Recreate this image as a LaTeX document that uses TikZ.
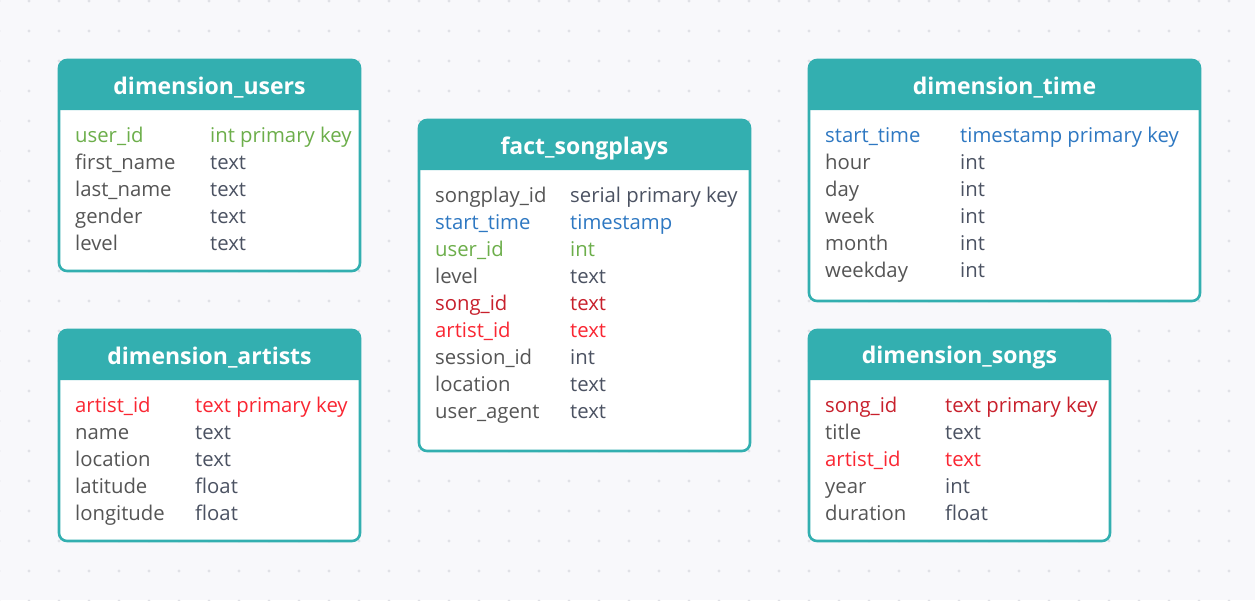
\documentclass[tikz,border=0pt]{standalone}
\usepackage{fontspec}
\setmainfont{Open Sans}
\usepackage{xcolor}
\usepackage{tikz}
\usetikzlibrary{calc}

\definecolor{bgcol}{HTML}{F8F8FB}
\definecolor{dotcol}{HTML}{E0E1E6}
\definecolor{hdrcol}{HTML}{33AFB0}
\definecolor{nmgray}{HTML}{555555}
\definecolor{tpgray}{HTML}{4B5262}
\definecolor{keygreen}{HTML}{6CAE4A}
\definecolor{keyblue}{HTML}{2E78C2}
\definecolor{keydred}{HTML}{C8202C}
\definecolor{keyred}{HTML}{FA2632}

\begin{document}
\begin{tikzpicture}[x=1pt,y=-1pt,
	fld/.style={anchor=west,inner sep=0pt,text height=14pt,text depth=4pt,nmgray,font=\fontsize{20.3}{24}\selectfont},
	typ/.style={tpgray},
	plain/.style={},
	green/.style={keygreen},
	blue/.style={keyblue},
	dred/.style={keydred},
	red/.style={keyred},
	title/.style={inner sep=0pt,white,font=\fontsize{23}{27}\selectfont\bfseries}]
			\useasboundingbox (0,0) rectangle (1255,600);
			\fill[bgcol] (0,0) rectangle (1255,600);
			
			% dotted grid
			\foreach \i in {0,...,42}
				\foreach \j in {0,...,20}
					\fill[dotcol] ({-1+30*\i},{1+30*\j}) circle (1.6pt);
			
			% dimension_users
			\begin{scope}[shift={(59,60)}]
				\def\w{301}
				\def\h{211}
				\fill[white,rounded corners=8pt] (0,0) rectangle (\w,\h);
				\fill[hdrcol] (0,50) [rounded corners=8pt] -- (0,0) -- (\w,0) [sharp corners] -- (\w,50) -- cycle;
				\draw[hdrcol,line width=2.6pt,rounded corners=8pt] (0,0) rectangle (\w,\h);
				\node[title] (users) at (\w/2,28) {dimension\_users};
				\foreach \n/\t/\c [count=\i] in {user\_id/int primary key/green, first\_name/text/plain, last\_name/text/plain, gender/text/plain, level/text/plain}
				{
					\node[fld,\c] (u-n\i) at (16,{77+27*(\i-1)}) {\n};
					\node[fld,typ,\c] (u-t\i) at (151,{77+27*(\i-1)}) {\t};
				}
			\end{scope}
			
			% dimension_artists
			\begin{scope}[shift={(59,330)}]
				\def\w{301}
				\def\h{211}
				\fill[white,rounded corners=8pt] (0,0) rectangle (\w,\h);
				\fill[hdrcol] (0,50) [rounded corners=8pt] -- (0,0) -- (\w,0) [sharp corners] -- (\w,50) -- cycle;
				\draw[hdrcol,line width=2.6pt,rounded corners=8pt] (0,0) rectangle (\w,\h);
				\node[title] (artists) at (\w/2,28) {dimension\_artists};
				\foreach \n/\t/\c [count=\i] in {artist\_id/text primary key/red, name/text/plain, location/text/plain, latitude/float/plain, longitude/float/plain}
				{
					\node[fld,\c] (a-n\i) at (16,{77+27*(\i-1)}) {\n};
					\node[fld,typ,\c] (a-t\i) at (136,{77+27*(\i-1)}) {\t};
				}
			\end{scope}
			
			% fact_songplays
			\begin{scope}[shift={(419,120)}]
				\def\w{331}
				\def\h{331}
				\fill[white,rounded corners=8pt] (0,0) rectangle (\w,\h);
				\fill[hdrcol] (0,50) [rounded corners=8pt] -- (0,0) -- (\w,0) [sharp corners] -- (\w,50) -- cycle;
				\draw[hdrcol,line width=2.6pt,rounded corners=8pt] (0,0) rectangle (\w,\h);
				\node[title] (songplays) at (\w/2,28) {fact\_songplays};
				\foreach \n/\t/\c [count=\i] in {songplay\_id/serial primary key/plain, start\_time/timestamp/blue, user\_id/int/green, level/text/plain, song\_id/text/dred, artist\_id/text/red, session\_id/int/plain, location/text/plain, user\_agent/text/plain}
				{
					\node[fld,\c] (f-n\i) at (16,{77+27*(\i-1)}) {\n};
					\node[fld,typ,\c] (f-t\i) at (151,{77+27*(\i-1)}) {\t};
				}
			\end{scope}
			
			% dimension_time
			\begin{scope}[shift={(809,60)}]
				\def\w{391}
				\def\h{241}
				\fill[white,rounded corners=8pt] (0,0) rectangle (\w,\h);
				\fill[hdrcol] (0,50) [rounded corners=8pt] -- (0,0) -- (\w,0) [sharp corners] -- (\w,50) -- cycle;
				\draw[hdrcol,line width=2.6pt,rounded corners=8pt] (0,0) rectangle (\w,\h);
				\node[title] (time) at (\w/2,28) {dimension\_time};
				\foreach \n/\t/\c [count=\i] in {start\_time/timestamp primary key/blue, hour/int/plain, day/int/plain, week/int/plain, month/int/plain, weekday/int/plain}
				{
					\node[fld,\c] (t-n\i) at (16,{77+27*(\i-1)}) {\n};
					\node[fld,typ,\c] (t-t\i) at (151,{77+27*(\i-1)}) {\t};
				}
			\end{scope}
			
			% dimension_songs
			\begin{scope}[shift={(809,330)}]
				\def\w{301}
				\def\h{211}
				\fill[white,rounded corners=8pt] (0,0) rectangle (\w,\h);
				\fill[hdrcol] (0,50) [rounded corners=8pt] -- (0,0) -- (\w,0) [sharp corners] -- (\w,50) -- cycle;
				\draw[hdrcol,line width=2.6pt,rounded corners=8pt] (0,0) rectangle (\w,\h);
				\node[title] (songs) at (\w/2,28) {dimension\_songs};
				\foreach \n/\t/\c [count=\i] in {song\_id/text primary key/dred, title/text/plain, artist\_id/text/red, year/int/plain, duration/float/plain}
				{
					\node[fld,\c] (s-n\i) at (16,{77+27*(\i-1)}) {\n};
					\node[fld,typ,\c] (s-t\i) at (136,{77+27*(\i-1)}) {\t};
				}
			\end{scope}

		\end{tikzpicture}
\end{document}
